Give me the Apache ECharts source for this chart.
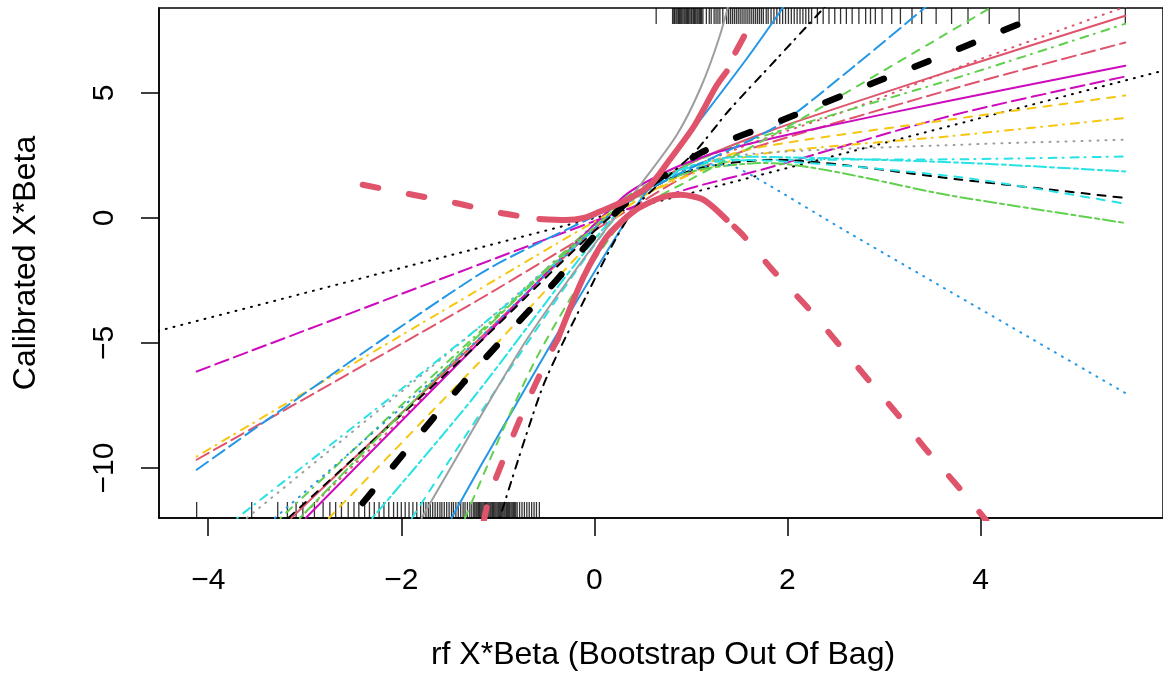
<!DOCTYPE html>
<html><head><meta charset="utf-8">
<script src="https://cdn.jsdelivr.net/npm/echarts@6/dist/echarts.min.js"></script>
<style>html,body{margin:0;padding:0;background:#fff}#c{width:1163px;height:673px}</style>
</head><body><div id="c"></div>
<script>
// ---- tick values ----
const xTicks = [-4, -2, 0, 2, 4];
const yTicks = [-10, -5, 0, 5];

// ---- rug marks (x values) ----
const rugTop = [0.64, 0.81, 0.823, 0.832, 0.846, 0.857, 0.871, 0.88, 0.893, 0.905, 0.917, 0.93, 0.941, 0.955, 0.966, 0.977, 0.99, 1.003, 1.012, 1.027, 1.038, 1.05, 1.063, 1.074, 1.087, 1.099, 1.11, 1.124,
  1.16, 1.19, 1.21, 1.24, 1.26, 1.28, 1.30, 1.33, 1.37, 1.39, 1.41, 1.43, 1.45, 1.47, 1.49, 1.51, 1.53, 1.55, 1.57, 1.59, 1.61, 1.63, 1.65, 1.67, 1.69, 1.71, 1.73, 1.75, 1.78, 1.80,
  1.83, 1.86, 1.89, 1.92, 1.95, 1.98, 2.01, 2.04, 2.07, 2.10, 2.13, 2.16, 2.19, 2.22, 2.25, 2.31, 2.37, 2.43, 2.49, 2.55, 2.61, 2.67, 2.74, 2.81, 2.86, 2.91, 2.98, 3.08, 3.17, 3.29, 3.39, 3.54, 3.70, 3.87, 4.09, 4.40, 5.50];
const rugBottom = [-4.12, -3.55, -3.28, -3.18, -3.09, -3.02, -2.90, -2.81, -2.74, -2.68, -2.62, -2.55, -2.49, -2.44, -2.38, -2.33, -2.28, -2.23, -2.18, -2.13, -2.08, -2.04, -2.00, -1.96, -1.92, -1.88, -1.84, -1.80,
  -1.77, -1.745, -1.72, -1.70, -1.675, -1.65, -1.625, -1.60, -1.58, -1.555, -1.53, -1.505, -1.48, -1.46, -1.435, -1.41, -1.385, -1.36, -1.34, -1.315, -1.29, -1.27, -1.25,
  -1.238, -1.225, -1.214, -1.2, -1.19, -1.177, -1.165, -1.153, -1.14, -1.128, -1.117, -1.104, -1.092, -1.08, -1.069, -1.056, -1.045, -1.032, -1.02, -1.008, -0.996, -0.985, -0.972, -0.96, -0.948, -0.936, -0.925, -0.912, -0.9, -0.888, -0.877, -0.864, -0.852, -0.84, -0.828, -0.815, -0.80,
  -0.775, -0.75, -0.725, -0.70, -0.675, -0.65, -0.625, -0.60, -0.57];

// ---- curves: [x, y] ----
const idealLine      = [[-4.6, -4.6], [6.0, 6.0]];
const redDotted      = [[-3.05, -12], [-1.2, -5.0], [0.3, 0.7], [1.5, 2.8], [2.69, 4.4], [3.89, 6.2], [5.5, 8.45]];
const redSolid       = [[-3.14, -12], [-1.2, -4.87], [0.3, 0.6], [1.0, 2.2], [1.85, 3.53], [3.73, 5.93], [5.5, 8.09]];
const greenDotdashUp = [[-3.25, -12], [-1.2, -4.6], [0.3, 0.75], [1.0, 2.2], [1.85, 3.4], [3.78, 5.64], [5.5, 7.77]];
const redLongdash    = [[-4.12, -9.67], [-1.2, -3.27], [0.3, 0.2], [1.0, 1.8], [1.6, 2.75], [3.78, 5.24], [5.5, 7.02]];
const magentaSolid   = [[-2.99, -12], [-1.2, -5.0], [0.3, 0.85], [0.8, 1.95], [1.29, 2.65], [2.2, 3.5], [3.73, 4.73], [5.5, 6.09]];
const magentaDashed  = [[-4.12, -6.14], [-1.2, -1.87], [0.3, 0.3], [1.0, 1.2], [1.75, 1.95], [3.73, 4.13], [5.5, 5.66]];
const yellowDashed   = [[-2.75, -12], [-1.2, -5.8], [0.3, 0.3], [1.0, 1.9], [1.6, 2.75], [3.73, 3.96], [5.5, 4.9]];
const yellowDotdash  = [[-4.12, -9.54], [-1.2, -2.87], [0.3, 0.5], [1.0, 1.75], [1.7, 2.55], [3.73, 3.29], [5.5, 4.0]];
const grayDotted     = [[-3.6, -12], [-1.2, -4.4], [0.3, 0.6], [0.9, 1.9], [1.6, 2.55], [3.78, 2.93], [5.5, 3.13]];
const cyanDotdash    = [[-3.70, -12], [-1.2, -4.39], [0.3, 0.45], [0.9, 1.8], [1.5, 2.3], [3.8, 2.35], [5.5, 2.46]];
const cyanTwodash    = [[-2.30, -12], [-1.27, -7.27], [0.3, 0.5], [0.9, 1.95], [1.5, 2.45], [3.76, 2.22], [5.5, 1.86]];
const blackDashed    = [[-3.17, -12], [-1.27, -5.27], [0.3, 0.5], [1.0, 1.9], [1.85, 2.33], [3.8, 1.53], [5.5, 0.8]];
const cyanDashed     = [[-1.89, -12], [-0.8, -5.6], [0.3, 0.4], [0.9, 1.9], [1.45, 2.33], [3.73, 1.66], [5.5, 0.57]];
const greenDotdashDn = [[-3.05, -12], [-1.2, -4.7], [0.3, 0.6], [1.0, 1.85], [1.77, 2.2], [3.73, 0.87], [5.5, -0.2]];
const blueDotted     = [[-3.31, -12], [-1.3, -5.2], [0.3, 0.6], [0.9, 1.8], [1.35, 2.15], [1.65, 1.66], [2.63, -0.58], [5.5, -7.0]];
const graySolid      = [[-1.79, -12], [-1.2, -8.07], [-0.69, -4.8], [0.0, -1.05], [0.5, 1.45], [0.85, 3.3], [1.1, 5.2], [1.3, 7.3], [1.45, 9.4]];
const blueSolid      = [[-1.48, -12], [-1.2, -10.07], [-0.41, -4.8], [0.41, 0.35], [1.57, 6.33], [1.95, 8.4], [2.05, 9.0]];
const blackDotdash   = [[-0.98, -12], [-0.55, -6.9], [-0.25, -4.4], [0.4, 0.3], [1.03, 2.6], [1.4, 4.33], [1.88, 6.33], [2.4, 8.5]];
const blueDashed     = [[-4.12, -10.07], [-1.2, -2.27], [0.1, 0.26], [1.0, 2.0], [1.9, 3.7], [2.7, 6.1], [3.45, 8.5]];
const greenDashed    = [[-1.34, -12], [-0.6, -5.6], [0.3, -0.1], [1.0, 1.55], [1.89, 3.4], [4.10, 8.4], [4.2, 8.6]];
const blackThick     = [[-2.40, -11.4], [-1.36, -6.6], [-0.48, -2.87], [0.3, 0.5], [1.1, 2.6], [2.0, 4.0], [2.9, 5.42], [3.37, 6.13], [4.38, 7.73]];
const upperBandLeft  = [[-2.40, 1.33], [-1.92, 0.96], [-1.44, 0.6], [-0.97, 0.2], [-0.57, -0.04]];
const upperBandMid   = [[-0.57, -0.04], [-0.3, -0.08], [-0.11, 0.0], [0.065, 0.27], [0.34, 0.73], [0.58, 1.33], [0.78, 2.33], [1.03, 3.66], [1.26, 5.26], [1.37, 5.86]];
const upperBandRight = [[1.46, 6.62], [1.55, 7.26]];
const lowerBandLeft  = [[-1.15, -12.2], [-1.08, -11.04], [-0.905, -9.3], [-0.715, -7.54], [-0.475, -5.53], [-0.38, -4.85]];
const lowerBandMid   = [[-0.38, -4.85], [-0.11, -2.34], [0.13, -0.74], [0.41, 0.27], [0.68, 0.8], [0.89, 0.93], [1.13, 0.73], [1.37, -0.07]];
const lowerBandRight = [[1.45, -0.35], [1.54, -0.69], [1.85, -2.1], [2.19, -3.5], [2.52, -5.0], [2.83, -6.44], [3.15, -7.9], [3.46, -9.37], [3.78, -10.8], [4.06, -12.1]];

// ---- styles ----
const BLACK = '#000000', RED = '#DF536B', GREEN = '#61D04F', BLUE = '#2297E6',
      CYAN = '#28E2E5', MAGENTA = '#CD0BBC', YELLOW = '#F5C710', GRAY = '#9E9E9E';
const SOLID = 'solid', DASHED = [8, 8], DOTTED = [1, 7], DOTDASH = [1, 7, 8, 6], LONGDASH = [14, 6], TWODASH = [4, 4, 12, 4];
const THICKDASH = [16, 31];

const lines = [
  [idealLine, BLACK, DOTTED, 2, false],
  [redDotted, RED, DOTTED, 2, true],
  [redSolid, RED, SOLID, 2, true],
  [greenDotdashUp, GREEN, DOTDASH, 2, true],
  [redLongdash, RED, LONGDASH, 2, true],
  [magentaSolid, MAGENTA, SOLID, 2, true],
  [magentaDashed, MAGENTA, LONGDASH, 2, true],
  [yellowDashed, YELLOW, DASHED, 2, true],
  [yellowDotdash, YELLOW, DOTDASH, 2, true],
  [grayDotted, GRAY, DOTTED, 2, true],
  [cyanDotdash, CYAN, DOTDASH, 2, true],
  [cyanTwodash, CYAN, TWODASH, 2, true],
  [blackDashed, BLACK, DASHED, 2, true],
  [cyanDashed, CYAN, DASHED, 2, true],
  [greenDotdashDn, GREEN, TWODASH, 2, true],
  [blueDotted, BLUE, DOTTED, 2, true],
  [graySolid, GRAY, SOLID, 2, true],
  [blueSolid, BLUE, SOLID, 2, true],
  [blackDotdash, BLACK, DOTDASH, 2, true],
  [blueDashed, BLUE, LONGDASH, 2, true],
  [greenDashed, GREEN, DASHED, 2, true],
  [blackThick, BLACK, [15, 33], 6.5, true],
  [upperBandLeft, RED, THICKDASH, 6, true],
  [upperBandMid, RED, SOLID, 6, true],
  [upperBandRight, RED, SOLID, 6, false],
  [lowerBandLeft, RED, THICKDASH, 6, true],
  [lowerBandMid, RED, SOLID, 6, true],
  [lowerBandRight, RED, THICKDASH, 6, true]
];

const minus = v => (v < 0 ? '\u2212' + Math.abs(v) : String(v));
const FONT = '"Liberation Sans", Arial, Helvetica, sans-serif';

const series = lines.map(([data, color, type, width, smooth]) => ({
  type: 'line', data, showSymbol: false, symbol: 'none', smooth: smooth ? 0.25 : false,
  clip: true, silent: true,
  lineStyle: { color, type, width, cap: 'round', join: 'round' }
}));

series.push({
  type: 'scatter', data: rugTop.map(x => [x, 8.4]), symbol: 'rect', symbolSize: [1.3, 16],
  symbolOffset: [0, 8], itemStyle: { color: '#000' }, silent: true, clip: false
});
series.push({
  type: 'scatter', data: rugBottom.map(x => [x, -12]), symbol: 'rect', symbolSize: [1.3, 16],
  symbolOffset: [0, -8], itemStyle: { color: '#000' }, silent: true, clip: false
});

const chart = echarts.init(document.getElementById('c'), null, { renderer: 'canvas' });
chart.setOption({
  animation: false,
  backgroundColor: '#fff',
  grid: { left: 159, right: -7, top: 8, bottom: 155, show: true, borderColor: '#000', borderWidth: 1.5, backgroundColor: 'transparent' },
  xAxis: {
    type: 'value', min: -4.51, max: 5.89,
    axisLine: { show: true, onZero: false, lineStyle: { color: '#000', width: 1.5 } },
    axisTick: { show: true, length: 18, customValues: xTicks, lineStyle: { color: '#000', width: 1.5 } },
    axisLabel: { customValues: xTicks, formatter: minus, fontSize: 30, color: '#000', fontFamily: FONT, margin: 48 },
    splitLine: { show: false }
  },
  yAxis: {
    type: 'value', min: -12, max: 8.4,
    axisLine: { show: true, onZero: false, lineStyle: { color: '#000', width: 1.5 } },
    axisTick: { show: true, length: 18, customValues: yTicks, lineStyle: { color: '#000', width: 1.5 } },
    axisLabel: { customValues: yTicks, formatter: minus, fontSize: 30, color: '#000', fontFamily: FONT, rotate: 90, margin: 39 },
    splitLine: { show: false }
  },
  graphic: [
    { type: 'text', x: 663, y: 655, style: { text: 'rf X*Beta (Bootstrap Out Of Bag)', font: '32px ' + FONT, fill: '#000', align: 'center', verticalAlign: 'middle' } },
    { type: 'text', x: 26, y: 263, rotation: Math.PI / 2, style: { text: 'Calibrated X*Beta', font: '32px ' + FONT, fill: '#000', align: 'center', verticalAlign: 'middle' } }
  ],
  series
});
</script>
</body></html>
